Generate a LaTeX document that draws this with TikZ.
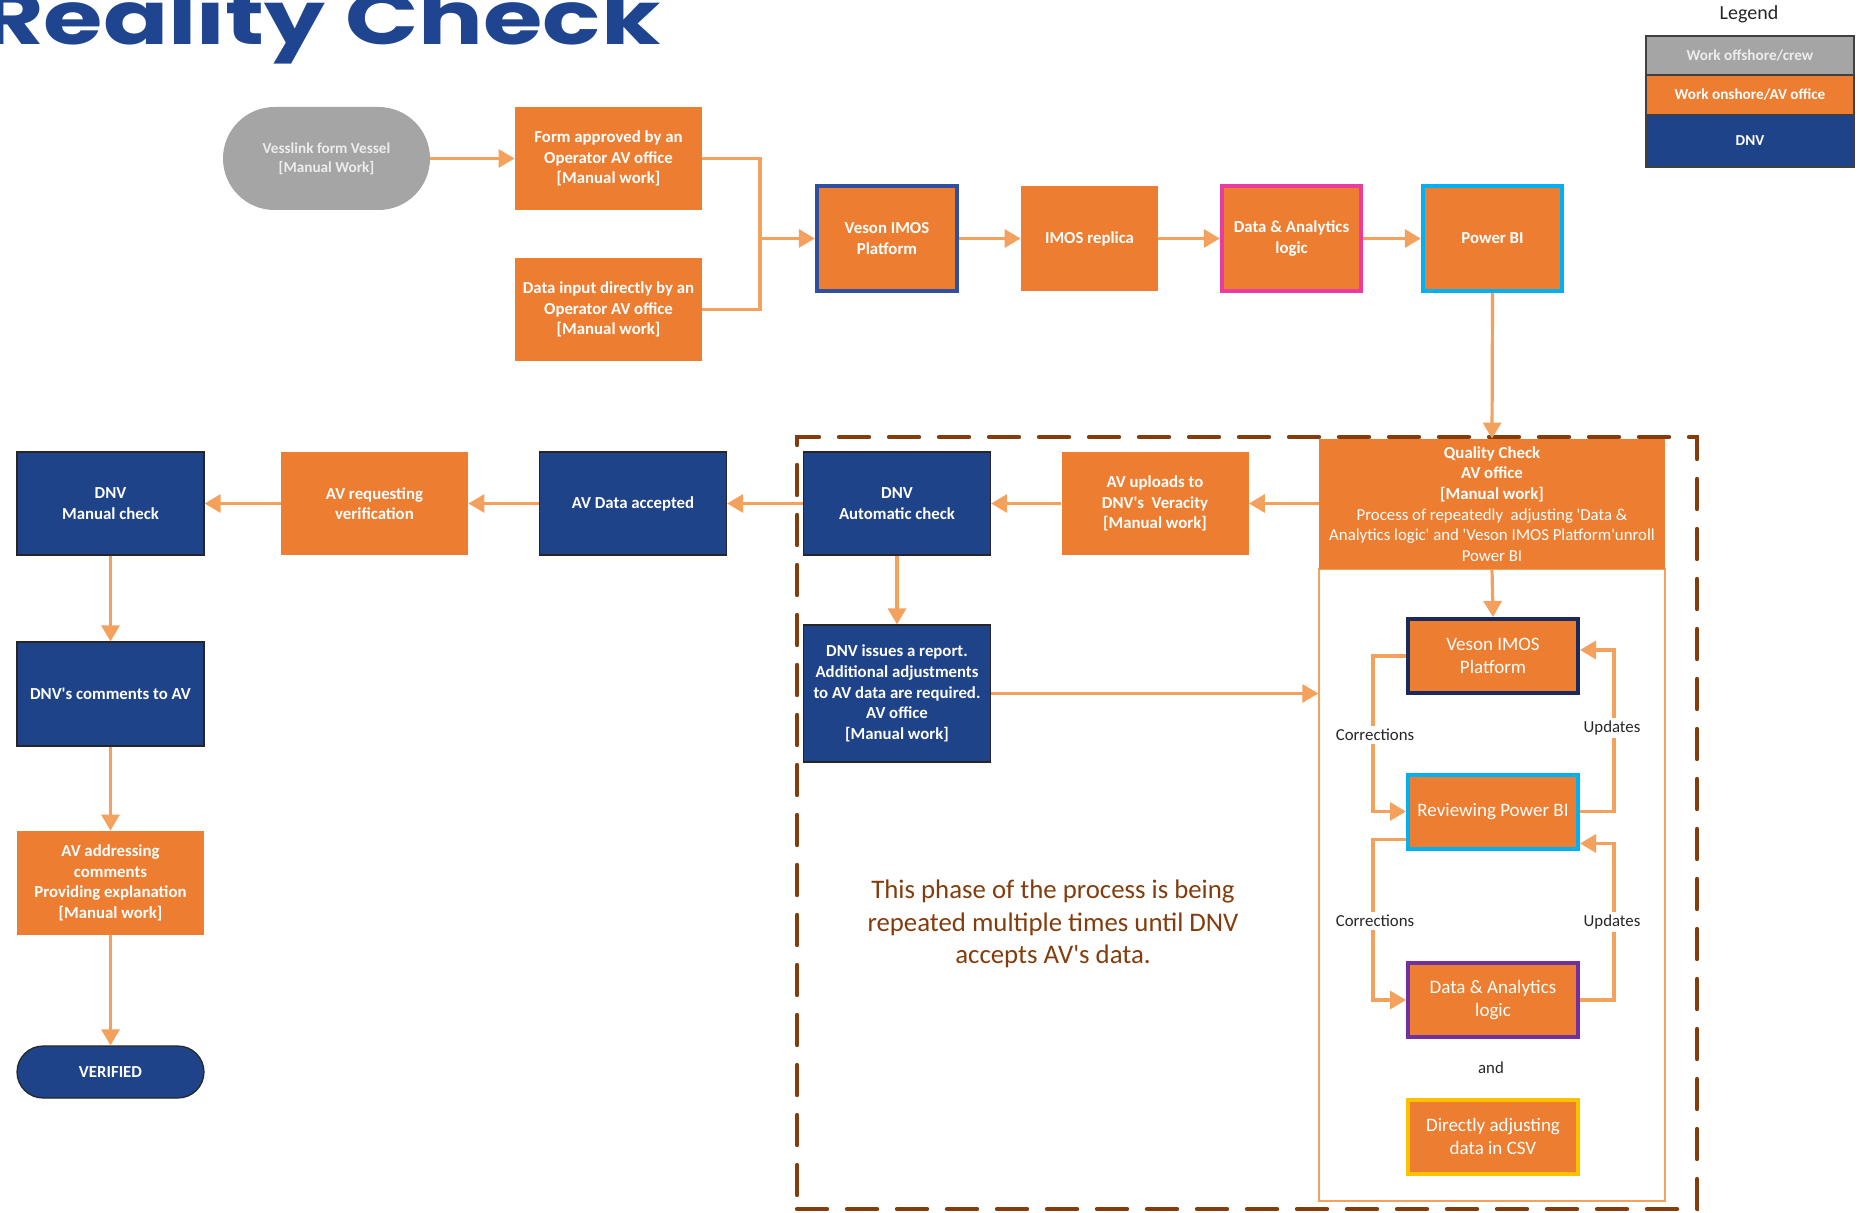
\documentclass[tikz,border=0pt]{standalone}
\usepackage{fontspec}
\usepackage{graphicx}
\setmainfont{Carlito}
\newfontfamily\titlefont{Poppins}
\usetikzlibrary{arrows.meta}
\definecolor{ora}{HTML}{ED7D31}
\definecolor{dnv}{HTML}{1F4388}
\definecolor{gry}{HTML}{A5A5A5}
\definecolor{grytext}{HTML}{EDEDED}
\definecolor{arr}{HTML}{F4A15D}
\definecolor{brn}{HTML}{843C0C}
\definecolor{ttl}{HTML}{1F4591}
\definecolor{bordblue}{HTML}{2F4F9F}
\definecolor{magent}{HTML}{EC3B9E}
\definecolor{cyanb}{HTML}{00B0F0}
\definecolor{navyb}{HTML}{1A2A5C}
\definecolor{purp}{HTML}{7030A0}
\definecolor{gold}{HTML}{FFC000}
\newcommand\myq{\textquotesingle}
\begin{document}
\begin{tikzpicture}[x=0.5pt,y=-0.5pt,
  box/.style={rectangle, inner sep=1pt, align=center, text=white, font=\fontsize{8.4}{10.3}\selectfont\bfseries},
  obox/.style={box, fill=ora, minimum width=93.5pt, minimum height=51.5pt},
  bbox/.style={box, fill=dnv, draw=black!85, line width=0.6pt, minimum width=93.5pt, minimum height=51.5pt},
  topbox/.style={box, fill=ora, minimum height=52.5pt},
  ibox/.style={rectangle, fill=ora, align=center, text=white, inner sep=1pt, font=\fontsize{9.5}{11.3}\selectfont, line width=2pt, minimum width=85pt, minimum height=37pt},
  flow/.style={draw=arr, line width=1.6pt, -{Triangle[width=9pt,length=8pt]}},
  plain/.style={draw=arr, line width=1.6pt},
  lab/.style={fill=white, inner sep=1.5pt, text=black!85, font=\fontsize{8.4}{10}\selectfont},
  leg/.style={rectangle, draw=black!75, line width=0.6pt, minimum width=104pt, inner sep=0pt, font=\fontsize{7.6}{8.5}\selectfont\bfseries},
]
\useasboundingbox (0,0) rectangle (1862,1213);

% title
\node[anchor=base east, text=ttl, inner sep=0pt, font=\titlefont\bfseries\fontsize{37}{37}\selectfont] (title) at (661,45) {\scalebox{1.3}[1]{Reality Check}};

% legend
\node[font=\fontsize{10}{12}\selectfont, text=black!85] (legt) at (1749,14) {Legend};
\node[leg, fill=gry, text=grytext, minimum height=19.5pt] (legg) at (1750,55.5) {Work offshore/crew};
\node[leg, fill=ora, text=white, minimum height=20pt] (lego) at (1750,95) {Work onshore/AV office};
\node[leg, fill=dnv, text=white, minimum height=26pt] (legb) at (1750,141) {DNV};

% dashed frame
\node[draw=brn, line width=2.2pt, dash pattern=on 15pt off 10pt, line cap=round, minimum width=450pt, minimum height=386pt, inner sep=0pt] (frame) at (1247,823) {};

% top part
\node[box, fill=gry, text=grytext, rounded corners=25.75pt, minimum width=103.5pt, minimum height=51.5pt, font=\fontsize{7.6}{9.6}\selectfont\bfseries] (vess) at (326.5,158.5) {Vesslink form Vessel\\{[Manual Work]}};
\node[obox] (form) at (608.5,158.5) {Form approved by an\\Operator AV office\\{[Manual work]}};
\node[obox] (input) at (608.5,309.5) {Data input directly by an\\Operator AV office\\{[Manual work]}};
\node[topbox, draw=bordblue, line width=2.2pt, minimum width=70pt] (veson) at (887,238.5) {Veson IMOS\\Platform};
\node[topbox, minimum width=68.5pt] (replica) at (1089.5,238.5) {IMOS replica};
\node[topbox, draw=magent, line width=2.2pt, minimum width=69.5pt] (dal) at (1291.5,238.5) {Data \& Analytics\\logic};
\node[topbox, draw=cyanb, line width=2.2pt, minimum width=69.5pt] (pbi) at (1492.5,238.5) {Power BI};

\coordinate (join) at (760,238.5);
\draw[flow] (vess) -- (form);
\draw[plain] (form.east) -| (join);
\draw[plain] (input.east) -| (join);
\draw[flow] (join) -- (veson.west);
\draw[flow] (veson) -- (replica);
\draw[flow] (replica) -- (dal);
\draw[flow] (dal) -- (pbi);

% panel and quality check
\node[draw=arr, line width=0.7pt, minimum width=173pt, minimum height=316pt, inner sep=0pt] (panel) at (1492,885) {};
\node[obox, minimum width=173pt, minimum height=65pt] (qc) at (1492,504) {Quality Check\\AV office\\{[Manual work]}\\{\mdseries Process of repeatedly\ \ adjusting \myq Data \&}\\{\mdseries Analytics logic\myq{} and \myq Veson IMOS Platform\myq unroll}\\{\mdseries Power BI}};
\draw[flow] (pbi.south) -- (qc.north);

\node[ibox, draw=navyb] (iveson) at (1493,656) {Veson IMOS\\Platform};
\node[ibox, draw=cyanb] (rpbi) at (1493,811.5) {Reviewing Power BI};
\node[ibox, draw=purp] (idal) at (1493,1000) {Data \& Analytics\\logic};
\node[text=black!85, font=\fontsize{8.4}{10}\selectfont] (and) at (1491,1068) {and};
\node[ibox, draw=gold] (csv) at (1493,1136.5) {Directly adjusting\\data in CSV};

\draw[flow] (qc.south) -- (iveson.north);
\draw[flow] (iveson.west) -- ++(-33,0) coordinate (c1) |- (rpbi.west);
\draw[flow] (rpbi.east) -- ++(34,0) coordinate (u1) |- ([yshift=3pt]iveson.east);
\draw[flow] ([yshift=-14pt]rpbi.west) -- ++(-33,0) coordinate (c2) |- (idal.west);
\draw[flow] (idal.east) -- ++(34,0) coordinate (u2) |- ([yshift=-16pt]rpbi.east);
\node[lab] (lc1) at (1375,735) {Corrections};
\node[lab] (lu1) at (1612,728) {Updates};
\node[lab] (lc2) at (1375,921) {Corrections};
\node[lab] (lu2) at (1612,922) {Updates};

% middle row
\node[obox] (upl) at (1155,503.5) {AV uploads to\\DNV\myq s\ \ Veracity\\{[Manual work]}};
\node[bbox] (auto) at (897,503.5) {DNV\\Automatic check};
\node[bbox, minimum height=68.5pt] (issues) at (897,693.5) {DNV issues a report.\\Additional adjustments\\to AV data are required.\\AV office\\{[Manual work]}};
\node[bbox] (acc) at (633,503.5) {AV Data accepted};
\node[obox] (req) at (374.5,503.5) {AV requesting\\verification};
\node[bbox] (man) at (110.5,503.5) {DNV\\Manual check};
\node[bbox, minimum height=52pt] (com) at (110.5,694) {DNV\myq s comments to AV};
\node[obox, minimum height=52pt] (addr) at (110.5,883) {AV addressing\\comments\\Providing explanation\\{[Manual work]}};
\node[bbox, rounded corners=13pt, minimum height=26pt] (ver) at (110.5,1072) {VERIFIED};

\draw[flow] (qc.west |- upl.east) -- (upl.east);
\draw[flow] (upl) -- (auto);
\draw[flow] (auto) -- (acc);
\draw[flow] (acc) -- (req);
\draw[flow] (req) -- (man);
\draw[flow] (man) -- (com);
\draw[flow] (com) -- (addr);
\draw[flow] (addr) -- (ver);
\draw[flow] (auto) -- (issues);
\draw[flow] (issues.east) -- (issues.east -| panel.west);

\node[align=center, text=brn, font=\fontsize{13.4}{16.2}\selectfont] (note) at (1053,924) {This phase of the process is being\\repeated multiple times until DNV\\accepts AV\myq s data.};
\end{tikzpicture}
\end{document}
